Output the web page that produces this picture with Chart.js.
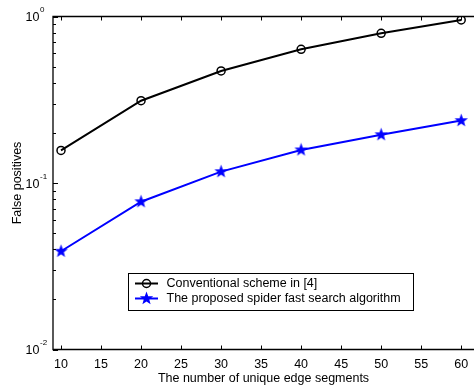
<!DOCTYPE html>
<html>
<head>
<meta charset="utf-8">
<script src="https://cdn.jsdelivr.net/npm/chart.js"></script>
<style>
body { margin: 0; background: #fff; }
canvas { display: block; }
</style>
</head>
<body>
<canvas id="myChart" width="474" height="390"></canvas>
<script>
var segments = [10, 20, 30, 40, 50, 60];
var conventional = [0.157, 0.312, 0.471, 0.635, 0.793, 0.953];
var spider = [0.0389, 0.0772, 0.117, 0.158, 0.195, 0.237];
var xTicks = [10, 15, 20, 25, 30, 35, 40, 45, 50, 55, 60];
var yTicks = [0.01, 0.1, 1];
var seriesNames = ['Conventional scheme in [4]', 'The proposed spider fast search algorithm'];

var FONT = 'Liberation Sans, Arial, Helvetica, sans-serif';
var FS = 12.5;

// filled pentagram marker
function makeStar(color) {
    var c = document.createElement('canvas');
    c.width = 15; c.height = 15;
    var g = c.getContext('2d');
    g.fillStyle = color;
    g.beginPath();
    for (var i = 0; i < 10; i++) {
        var r = i % 2 === 0 ? 7 : 2.9;
        var ang = -Math.PI / 2 + i * Math.PI / 5;
        var px = 7.5 + r * Math.cos(ang), py = 7.5 + r * Math.sin(ang);
        if (i === 0) g.moveTo(px, py); else g.lineTo(px, py);
    }
    g.closePath();
    g.fill();
    return c;
}
var star = makeStar('#0000ff');

// matlab-like box, inward ticks and tick labels
var axesPlugin = {
    id: 'matlabAxes',
    afterDatasetsDraw: function(chart) {
        var ctx = chart.ctx, a = chart.chartArea;
        var xs = chart.scales.x, ys = chart.scales.y;
        ctx.save();
        ctx.strokeStyle = '#000';
        ctx.lineWidth = 1;
        ctx.beginPath();
        xTicks.forEach(function(v) {
            var px = Math.round(xs.getPixelForValue(v)) + 0.5;
            ctx.moveTo(px, a.bottom); ctx.lineTo(px, a.bottom - 4);
            ctx.moveTo(px, a.top); ctx.lineTo(px, a.top + 4);
        });
        for (var e = -2; e < 0; e++) {
            for (var m = 2; m <= 9; m++) {
                var py = Math.round(ys.getPixelForValue(m * Math.pow(10, e))) + 0.5;
                ctx.moveTo(a.left, py); ctx.lineTo(a.left + 3, py);
            }
        }
        yTicks.forEach(function(v) {
            var py = Math.round(ys.getPixelForValue(v)) + 0.5;
            ctx.moveTo(a.left, py); ctx.lineTo(a.left + 5, py);
        });
        ctx.stroke();

        ctx.lineWidth = 1.3;
        ctx.beginPath();
        ctx.moveTo(chart.width, a.top);
        ctx.lineTo(a.left, a.top);
        ctx.lineTo(a.left, a.bottom);
        ctx.lineTo(chart.width, a.bottom);
        ctx.stroke();

        ctx.fillStyle = '#000';
        ctx.textBaseline = 'alphabetic';
        yTicks.forEach(function(v) {
            var py = ys.getPixelForValue(v);
            var exp = Math.round(Math.log10(v));
            ctx.font = FS + 'px ' + FONT;
            ctx.textAlign = 'right';
            ctx.fillText('10', 39.5, py + 4.5);
            ctx.font = '8px ' + FONT;
            ctx.textAlign = 'left';
            ctx.fillText(String(exp), 40, py - 4.5);
        });
        ctx.font = FS + 'px ' + FONT;
        ctx.textAlign = 'center';
        xTicks.forEach(function(v) {
            ctx.fillText(String(v), xs.getPixelForValue(v), a.bottom + 18.5);
        });
        ctx.restore();
    },
    afterDraw: function(chart) {
        // legend box
        var ctx = chart.ctx;
        var bx = 128.5, by = 273.5, bw = 285, bh = 37;
        ctx.save();
        ctx.fillStyle = '#fff';
        ctx.fillRect(bx, by, bw, bh);
        ctx.strokeStyle = '#000';
        ctx.lineWidth = 1;
        ctx.strokeRect(bx, by, bw, bh);
        chart.data.datasets.forEach(function(ds, i) {
            var ly = 283.5 + i * 15;
            ctx.strokeStyle = ds.borderColor;
            ctx.lineWidth = 2;
            ctx.beginPath();
            ctx.moveTo(135, ly); ctx.lineTo(158, ly);
            ctx.stroke();
            if (i === 0) {
                ctx.lineWidth = 1.5;
                ctx.beginPath();
                ctx.arc(146.5, ly, 4, 0, Math.PI * 2);
                ctx.stroke();
            } else {
                ctx.drawImage(star, 146.5 - 7.5, ly - 7.5);
            }
            ctx.fillStyle = '#000';
            ctx.font = FS + 'px ' + FONT;
            ctx.textAlign = 'left';
            ctx.textBaseline = 'middle';
            ctx.fillText(ds.label, 166.5, ly);
        });
        ctx.restore();
    }
};

var ctx = document.getElementById('myChart').getContext('2d');
var chart = new Chart(ctx, {
    type: 'line',
    data: {
        labels: segments,
        datasets: [{
            label: seriesNames[0],
            data: segments.map(function(x, i) { return {x: x, y: conventional[i]}; }),
            borderColor: '#000000',
            borderWidth: 2,
            pointStyle: 'circle',
            pointRadius: 4,
            pointBorderWidth: 1.5,
            pointBorderColor: '#000000',
            pointBackgroundColor: 'rgba(0,0,0,0)',
            fill: false,
            tension: 0
        }, {
            label: seriesNames[1],
            data: segments.map(function(x, i) { return {x: x, y: spider[i]}; }),
            borderColor: '#0000ff',
            borderWidth: 2,
            pointStyle: star,
            fill: false,
            tension: 0
        }]
    },
    options: {
        responsive: false,
        animation: false,
        layout: { autoPadding: false, padding: { top: 16.5, right: 0, bottom: 0, left: 0 } },
        plugins: {
            legend: { display: false },
            tooltip: { enabled: false }
        },
        scales: {
            x: {
                type: 'linear',
                min: 9,
                max: 61.6,
                grid: { display: false, drawTicks: false },
                border: { display: false },
                afterBuildTicks: function(s) { s.ticks = xTicks.map(function(v) { return {value: v}; }); },
                afterFit: function(s) { s.height = 40.5; },
                ticks: { display: false },
                title: {
                    display: true,
                    text: 'The number of unique edge segments',
                    color: '#000',
                    font: { family: FONT, size: FS },
                    padding: { top: 0, bottom: 4 }
                }
            },
            y: {
                type: 'logarithmic',
                min: 0.01,
                max: 1,
                grid: { display: false, drawTicks: false },
                border: { display: false },
                afterBuildTicks: function(s) { s.ticks = yTicks.map(function(v) { return {value: v}; }); },
                afterFit: function(s) { s.width = 53; },
                ticks: { display: false },
                title: {
                    display: true,
                    text: 'False positives',
                    color: '#000',
                    font: { family: FONT, size: FS },
                    padding: { top: 10, bottom: 0 }
                }
            }
        }
    },
    plugins: [axesPlugin]
});
</script>
</body>
</html>
